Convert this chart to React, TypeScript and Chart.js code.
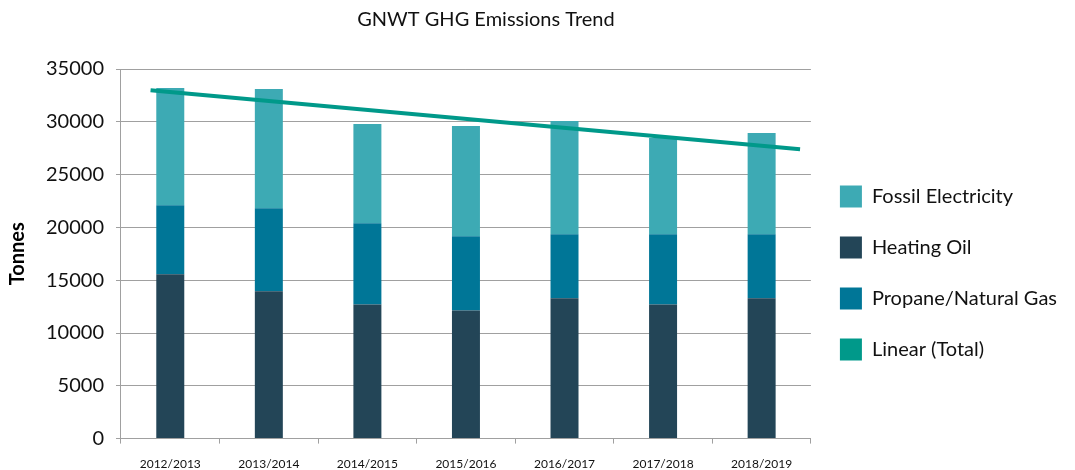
import React, { useEffect, useRef } from "react";
import { Chart, registerables } from "chart.js";

Chart.register(...registerables);

const categories = ["2012/2013", "2013/2014", "2014/2015", "2015/2016", "2016/2017", "2017/2018", "2018/2019"];
const heatingOil = [15560, 13950, 12710, 12140, 13280, 12710, 13280];
const propaneNaturalGas = [6540, 7870, 7690, 7030, 6070, 6640, 6070];
const fossilElectricity = [11100, 11280, 9390, 10430, 10730, 9110, 9590];
const trendX = [-0.2, 6.39];
const trendY = [32990, 27390];
const yTicks = [0, 5000, 10000, 15000, 20000, 25000, 30000, 35000];
const legendOrder = ["Fossil Electricity", "Heating Oil", "Propane/Natural Gas", "Linear (Total)"];

const FONT = "Lato, 'Open Sans', sans-serif";
const GRID = "#a0a0a0";

const titleShift = {
  id: "titleShift",
  afterLayout(chart: any) {
    const t = chart.titleBlock;
    if (t) {
      t.left += 20;
      t.right += 20;
    }
  },
};

export default function App() {
  const ref = useRef<HTMLCanvasElement | null>(null);
  useEffect(() => {
    if (!ref.current) return;
    const chart = new Chart(ref.current, {
      type: "bar",
      data: {
        labels: categories,
        datasets: [
          { type: "bar", label: "Heating Oil", data: heatingOil, backgroundColor: "#234557", borderWidth: 0 },
          { type: "bar", label: "Propane/Natural Gas", data: propaneNaturalGas, backgroundColor: "#007697", borderWidth: 0 },
          { type: "bar", label: "Fossil Electricity", data: fossilElectricity, backgroundColor: "#3daab4", borderWidth: 0 },
          {
            type: "line",
            label: "Linear (Total)",
            data: trendX.map((x, i) => ({ x, y: trendY[i] })),
            xAxisID: "x2",
            borderColor: "#00998a",
            backgroundColor: "#00998a",
            borderWidth: 4,
            pointRadius: 0,
            order: -1,
          } as any,
        ],
      },
      options: {
        animation: false,
        responsive: true,
        maintainAspectRatio: false,
        layout: { padding: { left: 0, right: 8, top: 0, bottom: -14 } },
        datasets: { bar: { barPercentage: 1, categoryPercentage: 0.284, grouped: false } },
        scales: {
          x: {
            stacked: true,
            grid: { display: true, drawOnChartArea: false, offset: true, color: GRID, tickLength: 5 },
            border: { display: true, color: GRID },
            ticks: { color: "#111", font: { family: FONT, size: 12 }, padding: 13, maxRotation: 0 },
          },
          x2: { type: "linear", min: -0.5, max: 6.5, offset: false, display: false },
          y: {
            stacked: true,
            min: 0,
            max: 35000,
            afterBuildTicks: (s: any) => { s.ticks = yTicks.map((v) => ({ value: v })); },
            grid: { color: GRID, tickLength: 5 },
            border: { display: true, color: GRID },
            ticks: { color: "#111", font: { family: FONT, size: 20 }, padding: 12, callback: (v: any) => String(v) },
            title: { display: true, text: "Tonnes", color: "#000", font: { family: FONT, size: 20, weight: "bold" }, padding: { top: 6, bottom: 4 } },
          },
        },
        plugins: {
          title: {
            display: true,
            text: "GNWT GHG Emissions Trend",
            color: "#111",
            fullSize: false,
            font: { family: FONT, size: 20, weight: "normal" },
            padding: { top: 8, bottom: 37 },
          },
          legend: {
            position: "right",
            title: { display: true, text: "", font: { size: 10 }, padding: { top: 25, bottom: 25 } },
            labels: {
              boxWidth: 22,
              boxHeight: 22,
              padding: 29,
              color: "#111",
              font: { family: FONT, size: 20 },
              sort: (a: any, b: any) => legendOrder.indexOf(a.text) - legendOrder.indexOf(b.text),
              generateLabels: (c: any) =>
                (Chart.defaults.plugins.legend.labels.generateLabels as any)(c).map((l: any) => ({ ...l, lineWidth: 0 })),
            },
          },
          tooltip: { enabled: false },
        },
      },
      plugins: [titleShift],
    });
    return () => chart.destroy();
  }, []);
  return (
    <div style={{ position: "absolute", left: 0, top: 0, width: 1075, height: 470 }}>
      <canvas ref={ref} />
    </div>
  );
}
